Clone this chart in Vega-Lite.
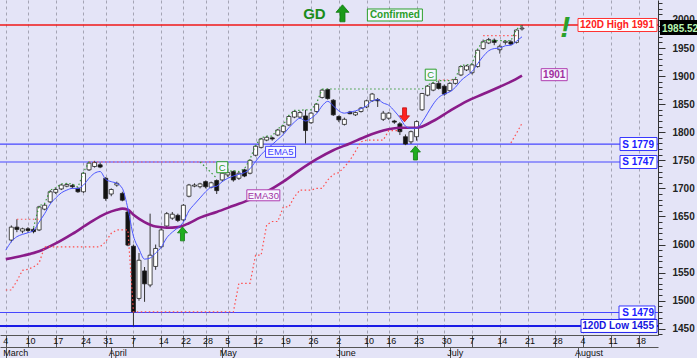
{
"$schema":"https://vega.github.io/schema/vega-lite/v6.json",
"width":658,"height":335,
"autosize":{"type":"none"},
"padding":{"left":0,"top":0,"right":39,"bottom":23},
"background":"#e4e4f7",
"view":{"stroke":null,"fill":"#e4e4f7"},
"config":{"font":"Liberation Sans"},
"datasets":{
"bars":[
{"d":"2025-03-05","k":1,"o":1608,"h":1634,"l":1604,"c":1631},
{"d":"2025-03-06","k":2,"o":1631,"h":1645,"l":1622,"c":1627},
{"d":"2025-03-07","k":3,"o":1624,"h":1630,"l":1620,"c":1628},
{"d":"2025-03-10","k":4,"o":1628,"h":1631,"l":1621,"c":1625},
{"d":"2025-03-11","k":5,"o":1627,"h":1630,"l":1620,"c":1623},
{"d":"2025-03-12","k":6,"o":1626,"h":1669,"l":1624,"c":1667},
{"d":"2025-03-13","k":7,"o":1663,"h":1673,"l":1661,"c":1670},
{"d":"2025-03-14","k":8,"o":1676,"h":1697,"l":1674,"c":1694},
{"d":"2025-03-17","k":9,"o":1693,"h":1701,"l":1690,"c":1698},
{"d":"2025-03-18","k":10,"o":1699,"h":1708,"l":1697,"c":1706},
{"d":"2025-03-19","k":11,"o":1704,"h":1709,"l":1702,"c":1707},
{"d":"2025-03-20","k":12,"o":1705,"h":1708,"l":1700,"c":1703},
{"d":"2025-03-21","k":13,"o":1700,"h":1702,"l":1692,"c":1694},
{"d":"2025-03-24","k":14,"o":1694,"h":1729,"l":1692,"c":1727},
{"d":"2025-03-25","k":15,"o":1733,"h":1748,"l":1731,"c":1745},
{"d":"2025-03-26","k":16,"o":1739,"h":1749,"l":1737,"c":1746},
{"d":"2025-03-27","k":17,"o":1742,"h":1746,"l":1736,"c":1738},
{"d":"2025-03-31","k":18,"o":1718,"h":1720,"l":1678,"c":1682},
{"d":"2025-04-01","k":19,"o":1690,"h":1700,"l":1686,"c":1698},
{"d":"2025-04-02","k":20,"o":1706,"h":1712,"l":1703,"c":1709},
{"d":"2025-04-03","k":21,"o":1691,"h":1694,"l":1677,"c":1679},
{"d":"2025-04-04","k":22,"o":1658,"h":1662,"l":1597,"c":1599},
{"d":"2025-04-07","k":23,"o":1597,"h":1600,"l":1455,"c":1480},
{"d":"2025-04-08","k":24,"o":1504,"h":1585,"l":1500,"c":1572},
{"d":"2025-04-09","k":25,"o":1553,"h":1560,"l":1498,"c":1530},
{"d":"2025-04-10","k":26,"o":1528,"h":1655,"l":1524,"c":1581},
{"d":"2025-04-11","k":27,"o":1561,"h":1600,"l":1555,"c":1593},
{"d":"2025-04-14","k":28,"o":1596,"h":1630,"l":1594,"c":1626},
{"d":"2025-04-15","k":29,"o":1633,"h":1658,"l":1630,"c":1655},
{"d":"2025-04-16","k":30,"o":1647,"h":1658,"l":1644,"c":1654},
{"d":"2025-04-17","k":31,"o":1652,"h":1655,"l":1640,"c":1643},
{"d":"2025-04-22","k":32,"o":1644,"h":1672,"l":1641,"c":1670},
{"d":"2025-04-23","k":33,"o":1686,"h":1708,"l":1684,"c":1706},
{"d":"2025-04-24","k":34,"o":1704,"h":1709,"l":1702,"c":1706},
{"d":"2025-04-25","k":35,"o":1703,"h":1710,"l":1700,"c":1708},
{"d":"2025-04-28","k":36,"o":1712,"h":1714,"l":1700,"c":1703},
{"d":"2025-04-29","k":37,"o":1702,"h":1712,"l":1700,"c":1710},
{"d":"2025-04-30","k":38,"o":1714,"h":1716,"l":1690,"c":1696},
{"d":"2025-05-02","k":39,"o":1715,"h":1729,"l":1712,"c":1727},
{"d":"2025-05-05","k":40,"o":1724,"h":1730,"l":1720,"c":1728},
{"d":"2025-05-06","k":41,"o":1730,"h":1732,"l":1712,"c":1715},
{"d":"2025-05-07","k":42,"o":1718,"h":1729,"l":1715,"c":1727},
{"d":"2025-05-08","k":43,"o":1733,"h":1735,"l":1720,"c":1722},
{"d":"2025-05-09","k":44,"o":1727,"h":1752,"l":1725,"c":1750},
{"d":"2025-05-12","k":45,"o":1759,"h":1777,"l":1757,"c":1775},
{"d":"2025-05-13","k":46,"o":1773,"h":1790,"l":1771,"c":1788},
{"d":"2025-05-14","k":47,"o":1786,"h":1793,"l":1784,"c":1791},
{"d":"2025-05-15","k":48,"o":1790,"h":1792,"l":1785,"c":1788},
{"d":"2025-05-16","k":49,"o":1795,"h":1806,"l":1793,"c":1804},
{"d":"2025-05-19","k":50,"o":1801,"h":1813,"l":1798,"c":1811},
{"d":"2025-05-20","k":51,"o":1813,"h":1830,"l":1811,"c":1828},
{"d":"2025-05-21","k":52,"o":1827,"h":1839,"l":1825,"c":1837},
{"d":"2025-05-22","k":53,"o":1827,"h":1838,"l":1824,"c":1835},
{"d":"2025-05-23","k":54,"o":1829,"h":1840,"l":1780,"c":1803},
{"d":"2025-05-26","k":55,"o":1817,"h":1836,"l":1815,"c":1834},
{"d":"2025-05-27","k":56,"o":1837,"h":1852,"l":1835,"c":1850},
{"d":"2025-05-28","k":57,"o":1862,"h":1877,"l":1860,"c":1875},
{"d":"2025-05-29","k":58,"o":1876,"h":1878,"l":1858,"c":1860},
{"d":"2025-05-30","k":59,"o":1857,"h":1859,"l":1829,"c":1831},
{"d":"2025-06-02","k":60,"o":1828,"h":1830,"l":1818,"c":1822},
{"d":"2025-06-03","k":61,"o":1814,"h":1826,"l":1812,"c":1823},
{"d":"2025-06-04","k":62,"o":1836,"h":1838,"l":1832,"c":1833},
{"d":"2025-06-05","k":63,"o":1831,"h":1837,"l":1829,"c":1835},
{"d":"2025-06-06","k":64,"o":1837,"h":1845,"l":1835,"c":1843},
{"d":"2025-06-10","k":65,"o":1845,"h":1858,"l":1843,"c":1856},
{"d":"2025-06-11","k":66,"o":1856,"h":1870,"l":1854,"c":1868},
{"d":"2025-06-12","k":67,"o":1858,"h":1861,"l":1845,"c":1856},
{"d":"2025-06-13","k":68,"o":1823,"h":1838,"l":1820,"c":1834},
{"d":"2025-06-16","k":69,"o":1825,"h":1836,"l":1822,"c":1834},
{"d":"2025-06-17","k":70,"o":1820,"h":1822,"l":1815,"c":1818},
{"d":"2025-06-18","k":71,"o":1815,"h":1818,"l":1795,"c":1801},
{"d":"2025-06-19","k":72,"o":1792,"h":1796,"l":1777,"c":1779},
{"d":"2025-06-20","k":73,"o":1783,"h":1803,"l":1779,"c":1801},
{"d":"2025-06-23","k":74,"o":1792,"h":1821,"l":1785,"c":1819},
{"d":"2025-06-24","k":75,"o":1840,"h":1870,"l":1838,"c":1869},
{"d":"2025-06-25","k":76,"o":1866,"h":1884,"l":1864,"c":1882},
{"d":"2025-06-26","k":77,"o":1875,"h":1889,"l":1873,"c":1887},
{"d":"2025-06-27","k":78,"o":1887,"h":1892,"l":1876,"c":1878},
{"d":"2025-06-30","k":79,"o":1882,"h":1885,"l":1865,"c":1868},
{"d":"2025-07-01","k":80,"o":1874,"h":1889,"l":1872,"c":1887},
{"d":"2025-07-02","k":81,"o":1887,"h":1896,"l":1885,"c":1894},
{"d":"2025-07-03","k":82,"o":1902,"h":1919,"l":1900,"c":1917},
{"d":"2025-07-04","k":83,"o":1911,"h":1920,"l":1909,"c":1918},
{"d":"2025-07-07","k":84,"o":1906,"h":1922,"l":1903,"c":1920},
{"d":"2025-07-08","k":85,"o":1917,"h":1948,"l":1915,"c":1946},
{"d":"2025-07-09","k":86,"o":1949,"h":1965,"l":1947,"c":1961},
{"d":"2025-07-10","k":87,"o":1959,"h":1968,"l":1957,"c":1965},
{"d":"2025-07-11","k":88,"o":1964,"h":1967,"l":1955,"c":1960},
{"d":"2025-07-14","k":89,"o":1947,"h":1956,"l":1940,"c":1953},
{"d":"2025-07-15","k":90,"o":1960,"h":1964,"l":1956,"c":1962},
{"d":"2025-07-16","k":91,"o":1961,"h":1964,"l":1955,"c":1957},
{"d":"2025-07-17","k":92,"o":1960,"h":1983,"l":1958,"c":1982},
{"d":"2025-07-18","k":93,"o":1984,"h":1991,"l":1981,"c":1985.52}
],
"ema5":[
{"k":0,"v":1590},{"k":1,"v":1605},{"k":2,"v":1614},{"k":3,"v":1618},{"k":4,"v":1621},{"k":5,"v":1625},{"k":6,"v":1640},{"k":7,"v":1655},{"k":8,"v":1672},{"k":9,"v":1683},
{"k":10,"v":1692},{"k":11,"v":1697},{"k":12,"v":1700},{"k":13,"v":1700},{"k":14,"v":1706},{"k":15,"v":1718},{"k":16,"v":1727},{"k":17,"v":1730},{"k":18,"v":1716},{"k":19,"v":1712},
{"k":20,"v":1709},{"k":21,"v":1700},{"k":22,"v":1664},{"k":23,"v":1615},{"k":24,"v":1592},{"k":25,"v":1574},{"k":26,"v":1576},{"k":27,"v":1585},{"k":28,"v":1595},{"k":29,"v":1612},
{"k":30,"v":1622},{"k":31,"v":1630},{"k":32,"v":1640},{"k":33,"v":1660},{"k":34,"v":1672},{"k":35,"v":1683},{"k":36,"v":1694},{"k":37,"v":1702},{"k":38,"v":1704},{"k":39,"v":1712},
{"k":40,"v":1718},{"k":41,"v":1722},{"k":42,"v":1725},{"k":43,"v":1728},{"k":44,"v":1735},{"k":45,"v":1748},{"k":46,"v":1760},{"k":47,"v":1770},{"k":48,"v":1778},{"k":49,"v":1787},
{"k":50,"v":1796},{"k":51,"v":1808},{"k":52,"v":1818},{"k":53,"v":1825},{"k":54,"v":1820},{"k":55,"v":1825},{"k":56,"v":1833},{"k":57,"v":1847},{"k":58,"v":1855},{"k":59,"v":1847},
{"k":60,"v":1838},{"k":61,"v":1834},{"k":62,"v":1836},{"k":63,"v":1838},{"k":64,"v":1842},{"k":65,"v":1847},{"k":66,"v":1856},{"k":67,"v":1858},{"k":68,"v":1852},{"k":69,"v":1848},
{"k":70,"v":1838},{"k":71,"v":1826},{"k":72,"v":1811},{"k":73,"v":1807},{"k":74,"v":1807},{"k":75,"v":1818},{"k":76,"v":1834},{"k":77,"v":1850},{"k":78,"v":1862},{"k":79,"v":1868},
{"k":80,"v":1872},{"k":81,"v":1880},{"k":82,"v":1892},{"k":83,"v":1900},{"k":84,"v":1908},{"k":85,"v":1922},{"k":86,"v":1935},{"k":87,"v":1945},{"k":88,"v":1949},{"k":89,"v":1950},
{"k":90,"v":1954},{"k":91,"v":1955},{"k":92,"v":1962},{"k":93,"v":1970}
],
"ema30":[
{"k":0,"v":1574},{"k":3,"v":1580},{"k":6,"v":1588},{"k":9,"v":1602},{"k":12,"v":1619},{"k":15,"v":1638},{"k":18,"v":1655},{"k":20,"v":1662},{"k":21,"v":1664},{"k":22,"v":1662},
{"k":23,"v":1653},{"k":25,"v":1640},{"k":27,"v":1632},{"k":29,"v":1630},{"k":31,"v":1631},{"k":33,"v":1638},{"k":35,"v":1648},{"k":38,"v":1658},{"k":41,"v":1669},{"k":44,"v":1680},
{"k":47,"v":1694},{"k":50,"v":1712},{"k":53,"v":1733},{"k":56,"v":1752},{"k":59,"v":1768},{"k":62,"v":1780},{"k":65,"v":1793},{"k":68,"v":1803},{"k":71,"v":1808},{"k":74,"v":1808},
{"k":77,"v":1820},{"k":80,"v":1838},{"k":83,"v":1855},{"k":86,"v":1868},{"k":89,"v":1881},{"k":91,"v":1890},{"k":93,"v":1901}
],
"stop":[
{"s":"a","k":0,"v":1519},{"s":"a","k":1,"v":1519},{"s":"a","k":2,"v":1535},{"s":"a","k":3,"v":1554},{"s":"a","k":4,"v":1556},{"s":"a","k":5,"v":1560},{"s":"a","k":6,"v":1567},{"s":"a","k":7,"v":1596},
{"s":"a","k":17,"v":1596},{"s":"a","k":18,"v":1605},{"s":"a","k":19,"v":1620},{"s":"a","k":20,"v":1626},{"s":"a","k":22,"v":1626},{"s":"a","k":23,"v":1480},{"s":"a","k":41,"v":1480},
{"s":"a","k":42,"v":1531},{"s":"a","k":44,"v":1531},{"s":"a","k":45,"v":1581},{"s":"a","k":46,"v":1581},{"s":"a","k":47,"v":1635},{"s":"a","k":48,"v":1641},{"s":"a","k":49,"v":1641},
{"s":"a","k":50,"v":1667},{"s":"a","k":51,"v":1667},{"s":"a","k":52,"v":1685},{"s":"a","k":53,"v":1697},{"s":"a","k":55,"v":1697},{"s":"a","k":56,"v":1700},{"s":"a","k":57,"v":1700},
{"s":"a","k":58,"v":1715},{"s":"a","k":59,"v":1725},{"s":"a","k":60,"v":1728},{"s":"a","k":61,"v":1738},{"s":"a","k":62,"v":1750},{"s":"a","k":63,"v":1766},{"s":"a","k":64,"v":1783},
{"s":"a","k":65,"v":1786},{"s":"a","k":68,"v":1786},{"s":"a","k":69,"v":1803},{"s":"a","k":71,"v":1803},
{"s":"b","k":91,"v":1781},{"s":"b","k":92,"v":1798},{"s":"b","k":93,"v":1816}
],
"res":[
{"s":"a","k":2,"v":1645},{"s":"a","k":6,"v":1645},
{"s":"b","k":15,"v":1747},{"s":"b","k":38,"v":1747},
{"s":"c","k":78,"v":1893},{"s":"c","k":81,"v":1893},
{"s":"d","k":86,"v":1972},{"s":"d","k":92,"v":1972}
],
"grn":[
{"s":"a","k":5,"v":1630},{"s":"a","k":6,"v":1669},{"s":"a","k":7,"v":1673},{"s":"a","k":8,"v":1697},{"s":"a","k":9,"v":1701},{"s":"a","k":10,"v":1708},{"s":"a","k":11,"v":1709},{"s":"a","k":12,"v":1708},{"s":"a","k":13,"v":1702},{"s":"a","k":14,"v":1729},{"s":"a","k":15,"v":1747},
{"s":"b","k":35,"v":1747},{"s":"b","k":36,"v":1738},{"s":"b","k":37,"v":1728},{"s":"b","k":38,"v":1718},
{"s":"c","k":39,"v":1729},{"s":"c","k":40,"v":1730},{"s":"c","k":41,"v":1732},{"s":"c","k":42,"v":1730},{"s":"c","k":43,"v":1735},{"s":"c","k":44,"v":1752},{"s":"c","k":45,"v":1777},{"s":"c","k":46,"v":1790},{"s":"c","k":47,"v":1793},{"s":"c","k":48,"v":1793},{"s":"c","k":49,"v":1806},{"s":"c","k":50,"v":1813},{"s":"c","k":51,"v":1830},{"s":"c","k":52,"v":1839},{"s":"c","k":53,"v":1839},{"s":"c","k":54,"v":1840},{"s":"c","k":55,"v":1840},{"s":"c","k":56,"v":1852},{"s":"c","k":57,"v":1877},
{"s":"d","k":57,"v":1877},{"s":"d","k":75,"v":1877},
{"s":"e","k":75,"v":1877},{"s":"e","k":76,"v":1884},{"s":"e","k":77,"v":1889},{"s":"e","k":78,"v":1892},{"s":"e","k":80,"v":1892},{"s":"e","k":81,"v":1896},{"s":"e","k":82,"v":1919},{"s":"e","k":83,"v":1920},{"s":"e","k":84,"v":1922},{"s":"e","k":85,"v":1948},{"s":"e","k":86,"v":1963},{"s":"e","k":91,"v":1963},{"s":"e","k":92,"v":1983},{"s":"e","k":93,"v":1991}
],
"levels":[
{"id":"high","v":1991},{"id":"s1","v":1779},{"id":"s2","v":1747},{"id":"s3","v":1479},{"id":"low","v":1455}
],
"notes":[
{"id":"up","k":31.83,"v":1619},{"id":"up","k":73.8,"v":1763},{"id":"down","k":71.84,"v":1831},{"id":"gdup","k":60.66,"v":2011.8},
{"id":"GD","k":55.6,"v":2011.8},{"id":"!","k":100.8,"v":1994},
{"id":"EMA5","k":49.5,"v":1765},{"id":"EMA30","k":46.4,"v":1687.7},{"id":"1901","k":98.8,"v":1902.5},
{"id":"C","k":39.0,"v":1737.7},{"id":"C","k":76.56,"v":1902.5},{"id":"Confirmed","k":70.1,"v":2008.8}
],
"edge":[
{"id":"120D High 1991","v":1991},{"id":"S 1779","v":1779},{"id":"S 1747","v":1747},{"id":"S 1479","v":1479},{"id":"120D Low 1455","v":1455}
],
"last":[{"id":"1985.52","v":1985.52}]
},
"resolve":{"axis":{"x":"independent","y":"independent"},"scale":{"shape":"independent","fill":"independent","stroke":"independent","color":"independent"}},
"layer":[
{"data":{"name":"levels"},"mark":{"type":"rule"},
 "encoding":{
  "y":{"field":"v","type":"quantitative","scale":{"domain":[1438.9,2035.5],"nice":false,"zero":false},
   "axis":{"orient":"right","title":null,"values":[1440,1460,1470,1480,1490,1510,1520,1530,1540,1560,1570,1580,1590,1610,1620,1630,1640,1660,1670,1680,1690,1710,1720,1730,1740,1760,1770,1780,1790,1810,1820,1830,1840,1860,1870,1880,1890,1910,1920,1930,1940,1960,1970,1980,1990,2010,2020,2030],
    "labels":false,"domain":false,"grid":false,"tickSize":4,"tickColor":"#333"}},
  "color":{"condition":[{"test":"datum.id==='high'","value":"#f01818"},{"test":"datum.id==='low'","value":"#1a1ae6"}],"value":"#4646ff"},
  "strokeWidth":{"condition":[{"test":"datum.id==='high'","value":1.6},{"test":"datum.id==='low'","value":2}],"value":1.2}
 }},
{"data":{"name":"bars"},"mark":{"type":"rule","color":"#333","strokeWidth":1},
 "encoding":{
  "x":{"field":"k","type":"quantitative","scale":{"domain":[-0.14,116.6],"nice":false,"zero":false},
   "axis":{"orient":"bottom","title":null,"values":[0,4,9,14,18,23,28,32,36,40,45,50,55,60,65,69,74,79,84,89,94,99,104,109,114],
    "labelExpr":"['4','10','17','24','31','7','14','22','28','5','12','19','26','2','10','16','23','30','7','14','21','28','4','11','18'][indexof([0,4,9,14,18,23,28,32,36,40,45,50,55,60,65,69,74,79,84,89,94,99,104,109,114], datum.value)]",
    "grid":true,"gridDash":[3,3],"gridColor":"#a4a4b4","gridWidth":1,
    "tickSize":12,"tickColor":"#555","domainColor":"#555","labelAlign":"left","labelBaseline":"top","labelPadding":-11,"labelOffset":-3,
    "labelFontSize":9,"labelColor":"#111","labelFlush":false,"labelOverlap":false,"labelBound":false}},
  "y":{"field":"l","type":"quantitative","scale":{"domain":[1438.9,2035.5],"nice":false,"zero":false},
   "axis":{"orient":"right","title":null,"values":[1450,1500,1550,1600,1650,1700,1750,1800,1850,1900,1950,2000],
    "format":"d","tickSize":7,"labelPadding":7,"labelFontSize":10,"labelFontWeight":"bold","labelColor":"#222","labelBaseline":"middle",
    "tickColor":"#333","domainColor":"#333","grid":false,"labelOverlap":false,"labelFlush":false,"labelBound":false}},
  "y2":{"field":"h"}
 }},
{"data":{"name":"bars"},"mark":{"type":"bar","size":4,"strokeWidth":0.8,"stroke":"#222"},
 "encoding":{
  "x":{"field":"k","type":"quantitative","scale":{"domain":[-0.14,116.6],"nice":false,"zero":false},"axis":null},
  "y":{"field":"o","type":"quantitative","scale":{"domain":[1438.9,2035.5],"nice":false,"zero":false},"axis":null},
  "y2":{"field":"c"},
  "fill":{"condition":{"test":"datum.o > datum.c","value":"#111111"},"value":"#ffffff"}
 }},
{"data":{"name":"ema30"},"mark":{"type":"line","color":"#8a1c8a","strokeWidth":2.6,"interpolate":"monotone"},
 "encoding":{
  "x":{"field":"k","type":"quantitative","scale":{"domain":[-0.14,116.6],"nice":false,"zero":false},
   "axis":{"orient":"bottom","title":null,"values":[0,19,39,60,80,103],
    "labelExpr":"['March','April','May','June','July','August'][indexof([0,19,39,60,80,103], datum.value)]",
    "offset":12,"grid":false,"tickSize":11,"tickColor":"#555","domainColor":"#555","labelAlign":"left","labelBaseline":"top","labelPadding":-10,"labelOffset":-3,
    "labelFontSize":9,"labelColor":"#111","labelFlush":false,"labelOverlap":false,"labelBound":false}},
  "y":{"field":"v","type":"quantitative","scale":{"domain":[1438.9,2035.5],"nice":false,"zero":false},"axis":null}
 }},
{"data":{"name":"ema5"},"mark":{"type":"line","color":"#4a55ff","strokeWidth":1,"interpolate":"monotone"},
 "encoding":{
  "x":{"field":"k","type":"quantitative","scale":{"domain":[-0.14,116.6],"nice":false,"zero":false},"axis":null},
  "y":{"field":"v","type":"quantitative","scale":{"domain":[1438.9,2035.5],"nice":false,"zero":false},"axis":null}
 }},
{"data":{"name":"stop"},"mark":{"type":"line","color":"#ff4d4d","strokeWidth":1.2,"strokeDash":[1.5,2.5]},
 "encoding":{
  "x":{"field":"k","type":"quantitative","scale":{"domain":[-0.14,116.6],"nice":false,"zero":false},"axis":null},
  "y":{"field":"v","type":"quantitative","scale":{"domain":[1438.9,2035.5],"nice":false,"zero":false},"axis":null},
  "detail":{"field":"s"}
 }},
{"data":{"name":"res"},"mark":{"type":"line","color":"#ff5a5a","strokeWidth":1.2,"strokeDash":[1.5,2.5]},
 "encoding":{
  "x":{"field":"k","type":"quantitative","scale":{"domain":[-0.14,116.6],"nice":false,"zero":false},"axis":null},
  "y":{"field":"v","type":"quantitative","scale":{"domain":[1438.9,2035.5],"nice":false,"zero":false},"axis":null},
  "detail":{"field":"s"}
 }},
{"data":{"name":"grn"},"mark":{"type":"line","color":"#3a9a3a","strokeWidth":1.2,"strokeDash":[1.5,2.5]},
 "encoding":{
  "x":{"field":"k","type":"quantitative","scale":{"domain":[-0.14,116.6],"nice":false,"zero":false},"axis":null},
  "y":{"field":"v","type":"quantitative","scale":{"domain":[1438.9,2035.5],"nice":false,"zero":false},"axis":null},
  "detail":{"field":"s"}
 }},
{"data":{"name":"notes"},"transform":[{"filter":"indexof(['up','down','gdup'], datum.id) >= 0"}],
 "mark":{"type":"point","filled":true,"size":4,"strokeWidth":0.8,"opacity":1},
 "encoding":{
  "x":{"field":"k","type":"quantitative","scale":{"domain":[-0.14,116.6],"nice":false,"zero":false},"axis":null},
  "y":{"field":"v","type":"quantitative","scale":{"domain":[1438.9,2035.5],"nice":false,"zero":false},"axis":null},
  "shape":{"field":"id","type":"nominal","legend":null,"scale":{"domain":["up","down","gdup"],"range":["M0,-7L5,-1L2,-1L2,7L-2,7L-2,-1L-5,-1Z","M0,7L5,1L2,1L2,-7L-2,-7L-2,1L-5,1Z","M0,-8.5L6.5,-1L2.5,-1L2.5,8.5L-2.5,8.5L-2.5,-1L-6.5,-1Z"]}},
  "fill":{"field":"id","type":"nominal","legend":null,"scale":{"domain":["up","down","gdup"],"range":["#1fae1f","#ff2020","#1a9a1a"]}},
  "stroke":{"field":"id","type":"nominal","legend":null,"scale":{"domain":["up","down","gdup"],"range":["#137a13","#c01010","#137a13"]}}
 }},
{"data":{"name":"notes"},"transform":[{"filter":"indexof(['EMA5','EMA30','1901','C','Confirmed'], datum.id) >= 0"}],
 "mark":{"type":"point","filled":true,"size":4,"strokeWidth":1,"opacity":1,"fill":"#f6f6ff"},
 "encoding":{
  "x":{"field":"k","type":"quantitative","scale":{"domain":[-0.14,116.6],"nice":false,"zero":false},"axis":null},
  "y":{"field":"v","type":"quantitative","scale":{"domain":[1438.9,2035.5],"nice":false,"zero":false},"axis":null},
  "shape":{"field":"id","type":"nominal","legend":null,"scale":{"domain":["EMA5","EMA30","1901","C","Confirmed"],"range":["M-15,-5.5H15V5.5H-15Z","M-16.5,-5.5H16.5V5.5H-16.5Z","M-13,-6H13V6H-13Z","M-5.5,-5.5H5.5V5.5H-5.5Z","M-27.5,-6H27.5V6H-27.5Z"]}},
  "stroke":{"field":"id","type":"nominal","legend":null,"scale":{"domain":["EMA5","EMA30","1901","C","Confirmed"],"range":["#4b4bff","#b03cb0","#b03cb0","#2ca02c","#2ca02c"]}}
 }},
{"data":{"name":"notes"},"transform":[{"filter":"indexof(['EMA5','EMA30','C'], datum.id) >= 0"}],
 "mark":{"type":"text","fontSize":9.5,"align":"center","baseline":"middle","dy":0.5},
 "encoding":{
  "x":{"field":"k","type":"quantitative","scale":{"domain":[-0.14,116.6],"nice":false,"zero":false},"axis":null},
  "y":{"field":"v","type":"quantitative","scale":{"domain":[1438.9,2035.5],"nice":false,"zero":false},"axis":null},
  "text":{"field":"id"},
  "color":{"field":"id","type":"nominal","legend":null,"scale":{"domain":["EMA5","EMA30","C"],"range":["#3a3aff","#a0309f","#2a9d2a"]}}
 }},
{"data":{"name":"notes"},"transform":[{"filter":"indexof(['1901','Confirmed'], datum.id) >= 0"}],
 "mark":{"type":"text","fontSize":10,"fontWeight":"bold","align":"center","baseline":"middle","dy":0.5},
 "encoding":{
  "x":{"field":"k","type":"quantitative","scale":{"domain":[-0.14,116.6],"nice":false,"zero":false},"axis":null},
  "y":{"field":"v","type":"quantitative","scale":{"domain":[1438.9,2035.5],"nice":false,"zero":false},"axis":null},
  "text":{"field":"id"},
  "color":{"field":"id","type":"nominal","legend":null,"scale":{"domain":["1901","Confirmed"],"range":["#a0309f","#2a9d2a"]}}
 }},
{"data":{"name":"notes"},"transform":[{"filter":"datum.id === 'GD'"}],
 "mark":{"type":"text","fontSize":15,"fontWeight":"bold","align":"center","baseline":"middle","color":"#1a8c1a","dy":1},
 "encoding":{
  "x":{"field":"k","type":"quantitative","scale":{"domain":[-0.14,116.6],"nice":false,"zero":false},"axis":null},
  "y":{"field":"v","type":"quantitative","scale":{"domain":[1438.9,2035.5],"nice":false,"zero":false},"axis":null},
  "text":{"field":"id"}
 }},
{"data":{"name":"notes"},"transform":[{"filter":"datum.id === '!'"}],
 "mark":{"type":"text","fontSize":30,"fontWeight":"bold","fontStyle":"italic","align":"center","baseline":"middle","color":"#2aa02a","dy":5},
 "encoding":{
  "x":{"field":"k","type":"quantitative","scale":{"domain":[-0.14,116.6],"nice":false,"zero":false},"axis":null},
  "y":{"field":"v","type":"quantitative","scale":{"domain":[1438.9,2035.5],"nice":false,"zero":false},"axis":null},
  "text":{"field":"id"}
 }},
{"data":{"name":"edge"},
 "mark":{"type":"point","filled":true,"size":4,"strokeWidth":1,"opacity":1,"fill":"#ffffff"},
 "encoding":{
  "x":{"value":"width"},
  "y":{"field":"v","type":"quantitative","scale":{"domain":[1438.9,2035.5],"nice":false,"zero":false},"axis":null},
  "shape":{"field":"id","type":"nominal","legend":null,"scale":{"domain":["120D High 1991","S 1779","S 1747","S 1479","120D Low 1455"],"range":["M-80,-6.5H-1V6.5H-80Z","M-38,-6.5H-1V6.5H-38Z","M-38,-6.5H-1V6.5H-38Z","M-39,-6.5H-3V6.5H-39Z","M-77,-6.5H-1V6.5H-77Z"]}},
  "stroke":{"field":"id","type":"nominal","legend":null,"scale":{"domain":["120D High 1991","S 1779","S 1747","S 1479","120D Low 1455"],"range":["#ff3030","#3535ff","#3535ff","#3535ff","#2020ee"]}}
 }},
{"data":{"name":"edge"},
 "mark":{"type":"text","fontSize":10,"fontWeight":"bold","align":"right","baseline":"middle","dx":-4,"dy":0.5},
 "encoding":{
  "x":{"value":"width"},
  "y":{"field":"v","type":"quantitative","scale":{"domain":[1438.9,2035.5],"nice":false,"zero":false},"axis":null},
  "text":{"field":"id"},
  "color":{"field":"id","type":"nominal","legend":null,"scale":{"domain":["120D High 1991","S 1779","S 1747","S 1479","120D Low 1455"],"range":["#ff2020","#2020ff","#2020ff","#2020ff","#1515e0"]}}
 }},
{"data":{"name":"last"},
 "mark":{"type":"point","filled":true,"size":4,"opacity":1,"fill":"#000000","strokeWidth":0,"shape":"M2,-8H50V7H2Z"},
 "encoding":{
  "x":{"value":"width"},
  "y":{"field":"v","type":"quantitative","scale":{"domain":[1438.9,2035.5],"nice":false,"zero":false},"axis":null}
 }},
{"data":{"name":"last"},
 "mark":{"type":"text","fontSize":10,"fontWeight":"bold","align":"left","baseline":"middle","dx":4,"dy":0.5,"color":"#b8f5b0"},
 "encoding":{
  "x":{"value":"width"},
  "y":{"field":"v","type":"quantitative","scale":{"domain":[1438.9,2035.5],"nice":false,"zero":false},"axis":null},
  "text":{"field":"id"}
 }}
]
}
